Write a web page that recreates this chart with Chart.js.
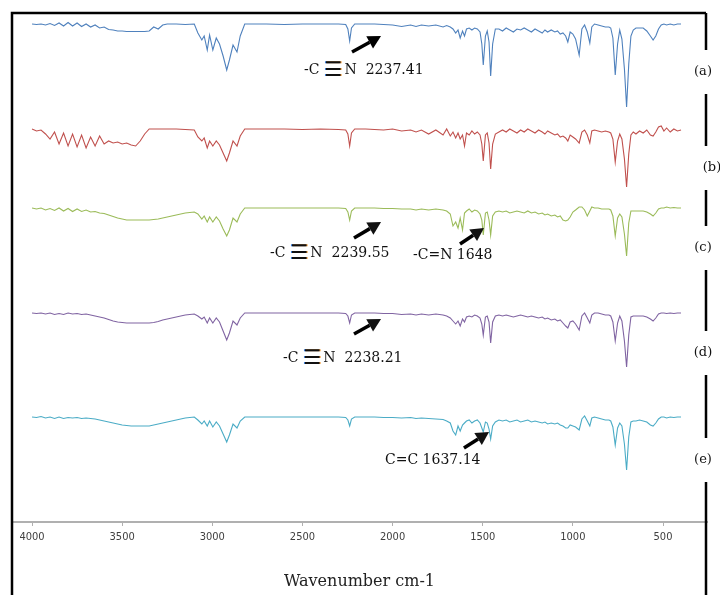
<!DOCTYPE html>
<html>
<head>
<meta charset="utf-8">
<script src="https://cdn.jsdelivr.net/npm/chart.js@4.4.1/dist/chart.umd.min.js"></script>
<style>
  html, body { margin: 0; padding: 0; background: #fff; }
  #wrap { width: 720px; height: 595px; }
</style>
</head>
<body>
<div id="wrap"><canvas id="ftir" width="720" height="595"></canvas></div>
<script>
// wavenumber grid (cm-1), shared by all five spectra
const wavenumbers = [
  4000, 3975, 3950, 3925, 3900, 3875, 3850, 3825, 3800, 3775, 3750, 3725, 3700, 3675, 3650, 3625, 3600, 3575, 3550, 3525, 3500, 3475, 3450, 3425, 3400,
  3375, 3350, 3325, 3300, 3275, 3250, 3200, 3150, 3100,
  3080, 3058, 3045, 3028, 3015, 2997, 2978, 2960, 2940, 2920, 2905, 2885, 2863, 2845, 2820, 2800,
  2700, 2600, 2500, 2400, 2300, 2260, 2248, 2238, 2228, 2210,
  2150, 2100, 2050, 2000, 1950, 1900, 1870, 1840, 1800, 1760, 1720, 1700,
  1680, 1665, 1650, 1637, 1625, 1612, 1601, 1590, 1575, 1560, 1545, 1530, 1515, 1505, 1497, 1485, 1475, 1465, 1456, 1445, 1430,
  1410, 1390, 1370, 1350, 1330, 1310, 1290, 1270, 1250, 1230, 1210, 1190, 1170, 1155, 1140, 1120, 1100,
  1085, 1070, 1055, 1040, 1028, 1015, 1000, 985, 965, 950, 935, 920, 906, 895, 880, 860, 840, 820, 800,
  790, 778, 765, 752, 740, 728, 714, 702, 690, 678, 665, 650, 630, 610, 590, 570, 555, 540, 525, 510, 495, 480, 460, 440, 420, 400
];

// transmittance (arbitrary %T, baseline ~100)
const specA = [
  100, 99.5, 100, 99, 100.5, 98.5, 101, 98, 101.5, 98, 101, 97.5, 100, 97, 99, 96, 97, 94.5, 94, 93, 93, 92.5, 92.5, 92.5, 92.5,
  92.5, 93, 97, 95, 99, 100, 100, 99.5, 100,
  91, 84, 88, 74, 89, 74, 86, 80, 68, 54, 64, 79, 72, 88, 100, 100,
  100, 99.5, 100, 100, 100, 99.5, 95, 83, 96, 100,
  100, 100, 99.5, 99, 97.5, 99, 97.5, 99, 98, 99, 97, 98.5,
  97, 95, 91, 94, 86, 93, 88, 95, 96, 94, 96, 95, 92, 80, 59, 88, 93, 82, 48, 80, 95,
  95, 93, 96, 94, 92, 95, 94, 96, 94, 92, 95, 93, 91, 94, 92, 94, 92,
  93, 90, 91, 88, 82, 92, 90, 85, 69, 95, 99, 92, 81, 97, 100, 99, 98, 97, 97,
  96, 86, 49, 80, 94, 85, 55, 17, 60, 88, 94, 96, 96, 96, 93, 88, 84, 88, 95, 99, 100, 99, 100, 99, 100, 100
];
const specB = [
  100, 98, 99, 95, 90, 97, 85, 96, 83, 95, 82, 94, 81, 92, 83, 93, 85, 88, 86, 87, 85, 86, 84, 83, 88,
  95, 100, 100, 100, 100, 100, 100, 99.5, 99,
  92, 88, 91, 81, 88, 83, 88, 84, 76, 68, 76, 88, 83, 93, 100, 100,
  100, 100, 99.5, 100, 99.5, 99, 95, 83, 96, 100,
  100, 99.5, 99, 100, 98, 99, 97, 99, 95, 99, 94, 100,
  93, 97, 91, 96, 90, 94, 83, 96, 94, 98, 95, 97, 94, 85, 68, 94, 96, 86, 60, 85, 95,
  97, 99, 97, 100, 98, 96, 99, 97, 100, 98, 96, 99, 97, 95, 98, 96, 94,
  95, 92, 93, 91, 88, 94, 92, 90, 86, 97, 99, 94, 86, 98, 99, 98, 97, 98, 97,
  96, 90, 67, 88, 95, 90, 70, 42, 75, 94, 97, 95, 98, 96, 99, 94, 93, 97, 102, 103, 98, 101, 97, 100, 98, 99
];
const specC = [
  100, 99, 100, 98, 99.5, 97.5, 100, 97, 99.5, 96.5, 99, 96.5, 98, 96, 96.5, 95, 94.5, 93, 91.5, 90, 89, 88, 88, 88, 88,
  88, 88, 88.5, 89, 90, 91, 93, 95, 96,
  94, 89, 92, 86, 91, 86, 91, 87, 79, 72, 78, 90, 86, 94, 100, 100,
  100, 100, 100, 100, 100, 99.5, 96, 88, 97, 100,
  100, 100, 99.5, 99.5, 99, 99, 98, 99, 98, 99, 98, 97,
  94, 82, 86, 80, 90, 78, 95, 97, 99, 96, 98, 97, 94, 88, 73, 95, 96, 88, 73, 92, 96,
  97, 96, 97, 95, 96, 97, 96, 95, 97, 95, 96, 94, 95, 93, 94, 92, 93,
  91, 92, 88, 87, 88, 91, 96, 98, 101, 101, 98, 92, 97, 101, 100, 100, 99, 99, 99,
  98, 92, 72, 90, 94, 91, 74, 52, 85, 97, 97, 97, 97, 97, 96, 94, 92, 95, 99, 100, 100, 101, 100, 100.5, 100, 100
];
const specD = [
  100, 99.5, 100, 99, 100, 98.5, 99.5, 98.5, 100, 99, 99.5, 98.5, 99, 98, 97, 96, 95, 93.5, 92, 91, 90.5, 90, 90, 90, 90,
  90, 90, 90.5, 91.5, 93, 94, 96, 98, 99,
  97, 94, 96, 90, 95, 90, 95, 91, 82, 73, 80, 92, 88, 95, 100, 100,
  100, 100, 100, 100, 100, 99.5, 97, 90, 98, 100,
  100, 100, 99.5, 99.5, 98.5, 99, 98, 99, 98, 99, 98, 97,
  95, 92, 89, 92, 87, 94, 91, 96, 97, 96, 98, 97, 95, 89, 78, 96, 97, 91, 70, 91, 97,
  98, 97, 98, 97, 96, 97, 98, 97, 96, 97, 96, 95, 96, 94, 95, 93, 94,
  92, 93, 90, 87, 85, 91, 92, 89, 83, 97, 100, 95, 90, 98, 100, 100, 99, 98, 98,
  97, 91, 72, 90, 97, 92, 72, 46, 78, 96, 97, 97, 97, 97, 96, 94, 92, 95, 99, 100, 100, 99.5, 100, 99.5, 100, 100
];
const specE = [
  100, 99.5, 100.5, 99, 100, 98.5, 100, 98.5, 99.5, 99, 99.5, 98.5, 99, 98.5, 98, 97, 96, 95, 94, 93, 92, 91.5, 91, 91, 91,
  91, 91, 92, 93, 94, 95, 97, 99, 100,
  97, 93, 96, 91, 96, 90, 95, 91, 83, 75, 82, 93, 89, 96, 100, 100,
  100, 100, 100, 100, 100, 99.5, 97, 91, 98, 100,
  100, 100, 99.5, 99.5, 99, 99.5, 98.5, 99, 98.5, 98, 97.5, 96,
  94, 86, 82, 91, 86, 92, 94, 96, 97, 94, 96, 97, 94, 89, 85, 95, 94, 88, 78, 91, 95,
  97, 96, 97, 95, 96, 97, 95, 96, 97, 95, 96, 95, 94, 95, 93, 94, 93,
  94, 92, 91, 89, 89, 92, 91, 90, 87, 98, 101, 96, 91, 99, 100, 99, 98, 97, 97,
  96, 90, 72, 89, 94, 91, 73, 47, 80, 95, 96, 96, 97, 96, 95, 92, 91, 94, 98, 100, 100, 99, 100, 99.5, 100, 100
];

const sampleLabels = ['(a)', '(b)', '(c)', '(d)', '(e)'];
const xTicks = [4000, 3500, 3000, 2500, 2000, 1500, 1000, 500];

const spectra = [specA, specB, specC, specD, specE];
const traceColors = ['#4f81bd', '#c0504d', '#9bbb59', '#8064a2', '#4bacc6'];
const traceOffsets = [398, 293, 214, 109, 5];     // vertical stacking
const labelLevels = [450, 354, 274, 169, 62];      // where (a)..(e) sit on the frame
const labelNudge = [0, 9, 0, 0, 0];

// peak annotations, placed in axis units (wavenumber, stacked value)
const peakNotes = [
  { pre: '-C', atom: 'N', value: '2237.41', at: [2491, 452], tail: [2225, 470], tip: [2064, 486] },
  { pre: '-C', atom: 'N', value: '2239.55', at: [2680, 269], tail: [2214, 284], tip: [2064, 300] },
  { text: '-C=N 1648', at: [1887, 267], tail: [1626, 278], tip: [1493, 294] },
  { pre: '-C', atom: 'N', value: '2238.21', at: [2608, 164], tail: [2214, 188], tip: [2064, 203] },
  { text: 'C=C 1637.14', at: [2042, 62], tail: [1604, 74], tip: [1465, 90] }
];

const SERIF = '14px "DejaVu Serif", serif';

function drawArrow(ctx, x0, y0, x1, y1) {
  const ang = Math.atan2(y1 - y0, x1 - x0);
  const head = 13, half = 7;
  const bx = x1 - head * Math.cos(ang), by = y1 - head * Math.sin(ang);
  ctx.lineWidth = 3.5;
  ctx.beginPath(); ctx.moveTo(x0, y0); ctx.lineTo(bx, by); ctx.stroke();
  ctx.beginPath();
  ctx.moveTo(x1, y1);
  ctx.lineTo(bx + half * Math.sin(ang), by - half * Math.cos(ang));
  ctx.lineTo(bx - half * Math.sin(ang), by + half * Math.cos(ang));
  ctx.closePath(); ctx.fill();
}

function drawNote(ctx, n, px, py) {
  ctx.textAlign = 'left';
  ctx.textBaseline = 'middle';
  ctx.font = SERIF;
  ctx.fillStyle = '#111';
  if (!n.pre) { ctx.fillText(n.text, px, py); return; }
  ctx.fillText(n.pre, px, py);
  let cx = px + ctx.measureText(n.pre).width + 5;
  ctx.font = '20px "DejaVu Sans", sans-serif';
  const w = ctx.measureText('\u2630').width;
  ctx.fillStyle = '#3d7fd9'; ctx.fillText('\u2630', cx - 1, py + 1);
  ctx.fillStyle = '#ef9b3a'; ctx.fillText('\u2630', cx + 1, py + 1);
  ctx.fillStyle = '#111'; ctx.fillText('\u2630', cx, py + 1);
  cx += w + 2;
  ctx.font = SERIF;
  ctx.fillText(n.atom, cx, py);
  cx += ctx.measureText(n.atom).width + 9;
  ctx.fillText(n.value, cx, py);
}

const framePlugin = {
  id: 'frameAndNotes',
  afterDraw(chart) {
    const { ctx, chartArea: area, scales: { x, y } } = chart;
    ctx.save();

    // black frame, right edge broken by the sample labels
    const fx0 = area.left, fx1 = area.right - 1, fy0 = area.top - 1;
    ctx.strokeStyle = '#000';
    ctx.lineWidth = 2.5;
    ctx.beginPath();
    ctx.moveTo(fx0, chart.height); ctx.lineTo(fx0, fy0); ctx.lineTo(fx1, fy0);
    let segStart = fy0;
    labelLevels.forEach(v => {
      const py = y.getPixelForValue(v);
      ctx.moveTo(fx1, segStart); ctx.lineTo(fx1, py - 22);
      segStart = py + 22;
    });
    ctx.moveTo(fx1, segStart); ctx.lineTo(fx1, chart.height);
    ctx.stroke();

    ctx.fillStyle = '#111';
    ctx.font = '13px "DejaVu Serif", serif';
    ctx.textAlign = 'center';
    ctx.textBaseline = 'middle';
    sampleLabels.forEach((t, i) => {
      ctx.fillText(t, fx1 - 3 + labelNudge[i], y.getPixelForValue(labelLevels[i]));
    });

    ctx.strokeStyle = '#000';
    ctx.fillStyle = '#000';
    peakNotes.forEach(n => {
      drawArrow(ctx, x.getPixelForValue(n.tail[0]), y.getPixelForValue(n.tail[1]),
                x.getPixelForValue(n.tip[0]), y.getPixelForValue(n.tip[1]));
      drawNote(ctx, n, x.getPixelForValue(n.at[0]), y.getPixelForValue(n.at[1]));
    });
    ctx.restore();
  }
};

new Chart(document.getElementById('ftir'), {
  type: 'line',
  data: {
    datasets: spectra.map((s, i) => ({
      label: sampleLabels[i],
      data: wavenumbers.map((w, k) => ({ x: w, y: s[k] + traceOffsets[i] })),
      borderColor: traceColors[i],
      borderWidth: 1.1,
      pointRadius: 0,
      tension: 0
    }))
  },
  options: {
    responsive: false,
    animation: false,
    devicePixelRatio: 1,
    events: [],
    layout: { padding: { top: 14, left: 12, right: 13, bottom: 0 } },
    plugins: { legend: { display: false }, tooltip: { enabled: false } },
    scales: {
      x: {
        type: 'linear',
        reverse: true,
        min: 256,
        max: 4111,
        afterBuildTicks: s => { s.ticks = xTicks.map(v => ({ value: v })); },
        afterFit: s => { s.height = 73; },
        border: { display: true, color: '#b0b0b0', width: 2 },
        grid: { display: true, drawOnChartArea: false, drawTicks: true, tickLength: 4, color: '#b0b0b0' },
        ticks: {
          color: '#404040',
          padding: 5,
          maxRotation: 0,
          autoSkip: false,
          callback: v => String(v),
          font: { family: '"Liberation Sans Narrow", "DejaVu Sans Condensed", sans-serif', size: 11 }
        },
        title: {
          display: true,
          text: 'Wavenumber cm-1',
          color: '#222',
          font: { family: '"DejaVu Serif", serif', size: 16 },
          padding: { top: 0, bottom: 4 }
        }
      },
      y: { display: false, min: 0, max: 508 }
    }
  },
  plugins: [framePlugin]
});
</script>
</body>
</html>
